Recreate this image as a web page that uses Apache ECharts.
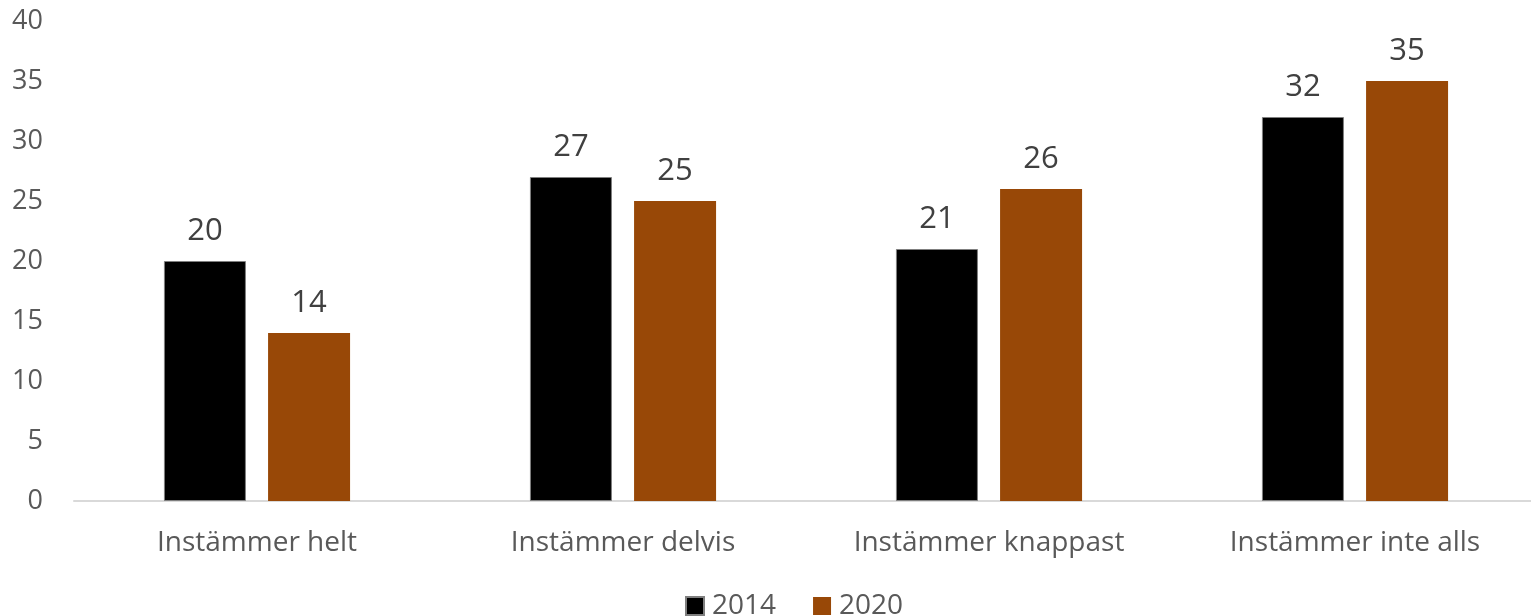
<!DOCTYPE html>
<html>
<head>
<meta charset="utf-8">
<script src="https://cdn.jsdelivr.net/npm/echarts@6/dist/echarts.min.js"></script>
<style>
  html, body { margin: 0; padding: 0; background: #fff; }
  #chart { width: 1531px; height: 616px; }
</style>
</head>
<body>
<div id="chart"></div>
<script>
var categories = ["Instämmer helt", "Instämmer delvis", "Instämmer knappast", "Instämmer inte alls"];
var data2014 = [20, 27, 21, 32];
var data2020 = [14, 25, 26, 35];

var chart = echarts.init(document.getElementById("chart"));
var font = "'Open Sans', 'Noto Sans', sans-serif";

var labelStyle = {
  show: true,
  position: "top",
  distance: 14,
  color: "#404040",
  fontSize: 31,
  fontFamily: font,
};

var option = {
  animation: false,
  grid: {
    left: 74,
    top: 21,
    width: 1464,
    height: 480,
    outerBoundsMode: "none",
  },
  legend: {
    top: 592,
    left: 685,
    padding: 0,
    itemWidth: 18,
    itemHeight: 18,
    itemGap: 37,
    icon: "rect",
    textStyle: {
      color: "#595959",
      fontSize: 28,
      fontFamily: font,
      padding: [0, 0, 0, 3],
    },
  },
  xAxis: {
    type: "category",
    data: categories,
    axisLine: { show: true, lineStyle: { color: "#d9d9d9", width: 2 } },
    axisTick: { show: false },
    axisLabel: {
      color: "#595959",
      fontSize: 28,
      fontFamily: font,
      margin: 28,
    },
  },
  yAxis: {
    type: "value",
    min: 0,
    max: 40,
    interval: 5,
    splitLine: { show: false },
    axisLine: { show: false },
    axisTick: { show: false },
    axisLabel: {
      color: "#595959",
      fontSize: 27,
      fontFamily: font,
      margin: 31,
    },
  },
  series: [
    {
      name: "2014",
      type: "bar",
      data: data2014,
      barWidth: 82,
      barGap: "27%",
      itemStyle: { color: "#000000", borderColor: "#7f7f7f", borderWidth: 1 },
      label: labelStyle,
    },
    {
      name: "2020",
      type: "bar",
      data: data2020,
      barWidth: 82,
      itemStyle: { color: "#984807" },
      label: labelStyle,
    },
  ],
};
chart.setOption(option);
</script>
</body>
</html>
